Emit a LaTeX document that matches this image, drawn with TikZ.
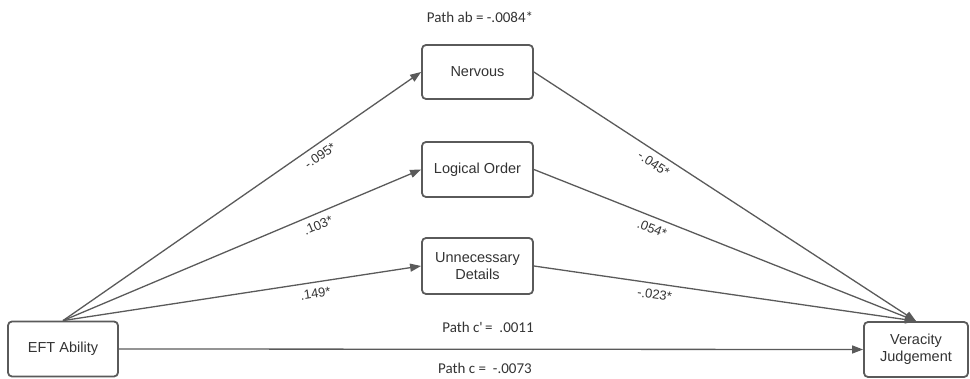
\documentclass[tikz,border=0pt]{standalone}
\usepackage{fontspec}
\setmainfont{Liberation Sans}
\newfontfamily\calfont{Carlito}
\usetikzlibrary{arrows.meta}
\definecolor{linegray}{HTML}{5A5A5A}
\definecolor{textgray}{HTML}{333333}
\tikzset{
  box/.style={draw=linegray, line width=1.8pt, rounded corners=4pt, fill=white,
    align=center, text=textgray, font=\fontsize{14.5}{17}\selectfont,
    inner sep=0pt},
  conn/.style={draw=linegray, line width=1.3pt,
    -{Triangle[length=11pt,width=8pt]}},
  elabel/.style={sloped, below=5pt, inner sep=1pt, text=textgray,
    font=\fontsize{13}{14}\selectfont},
  plabel/.style={text=textgray, font=\calfont\fontsize{15}{17}\selectfont}
}
\begin{document}
\begin{tikzpicture}[x=1pt,y=-1pt]
\useasboundingbox (0,0) rectangle (970,379);
\node[box, minimum width=110pt, minimum height=55pt] (eft) at (63,349) {EFT Ability};
\node[box, minimum width=111pt, minimum height=54pt] (nerv) at (477.5,72) {Nervous};
\node[box, minimum width=111pt, minimum height=55pt] (logic) at (477.5,169.5) {Logical Order};
\node[box, minimum width=111pt, minimum height=56pt] (unnec) at (477.5,266) {Unnecessary\\Details};
\node[box, minimum width=104pt, minimum height=55pt] (ver) at (916,349.5) {Veracity\\Judgement};

\node[plabel] (pab) at (480,17) {Path ab = -.0084*};
\node[plabel] (pcp) at (488,327) {Path c'\,= \ .0011};
\node[plabel] (pc) at (485,368) {Path c = \ -.0073};

\draw[conn] (eft.north) -- node[elabel, pos=0.70] {-.095*} (nerv.west);
\draw[conn] (eft.north) -- node[elabel, pos=0.70] {.103*} (logic.west);
\draw[conn] (eft.north) -- node[elabel, pos=0.70] {.149*} (unnec.west);
\draw[conn] (nerv.east) -- node[elabel, pos=0.33] {-.045*} (ver.north);
\draw[conn] (logic.east) -- node[elabel, pos=0.32] {.054*} (ver.north);
\draw[conn] (unnec.east) -- node[elabel, pos=0.32] {-.023*} (ver.north);
\draw[conn] (eft.east) -- (ver.west);
\end{tikzpicture}
\end{document}
